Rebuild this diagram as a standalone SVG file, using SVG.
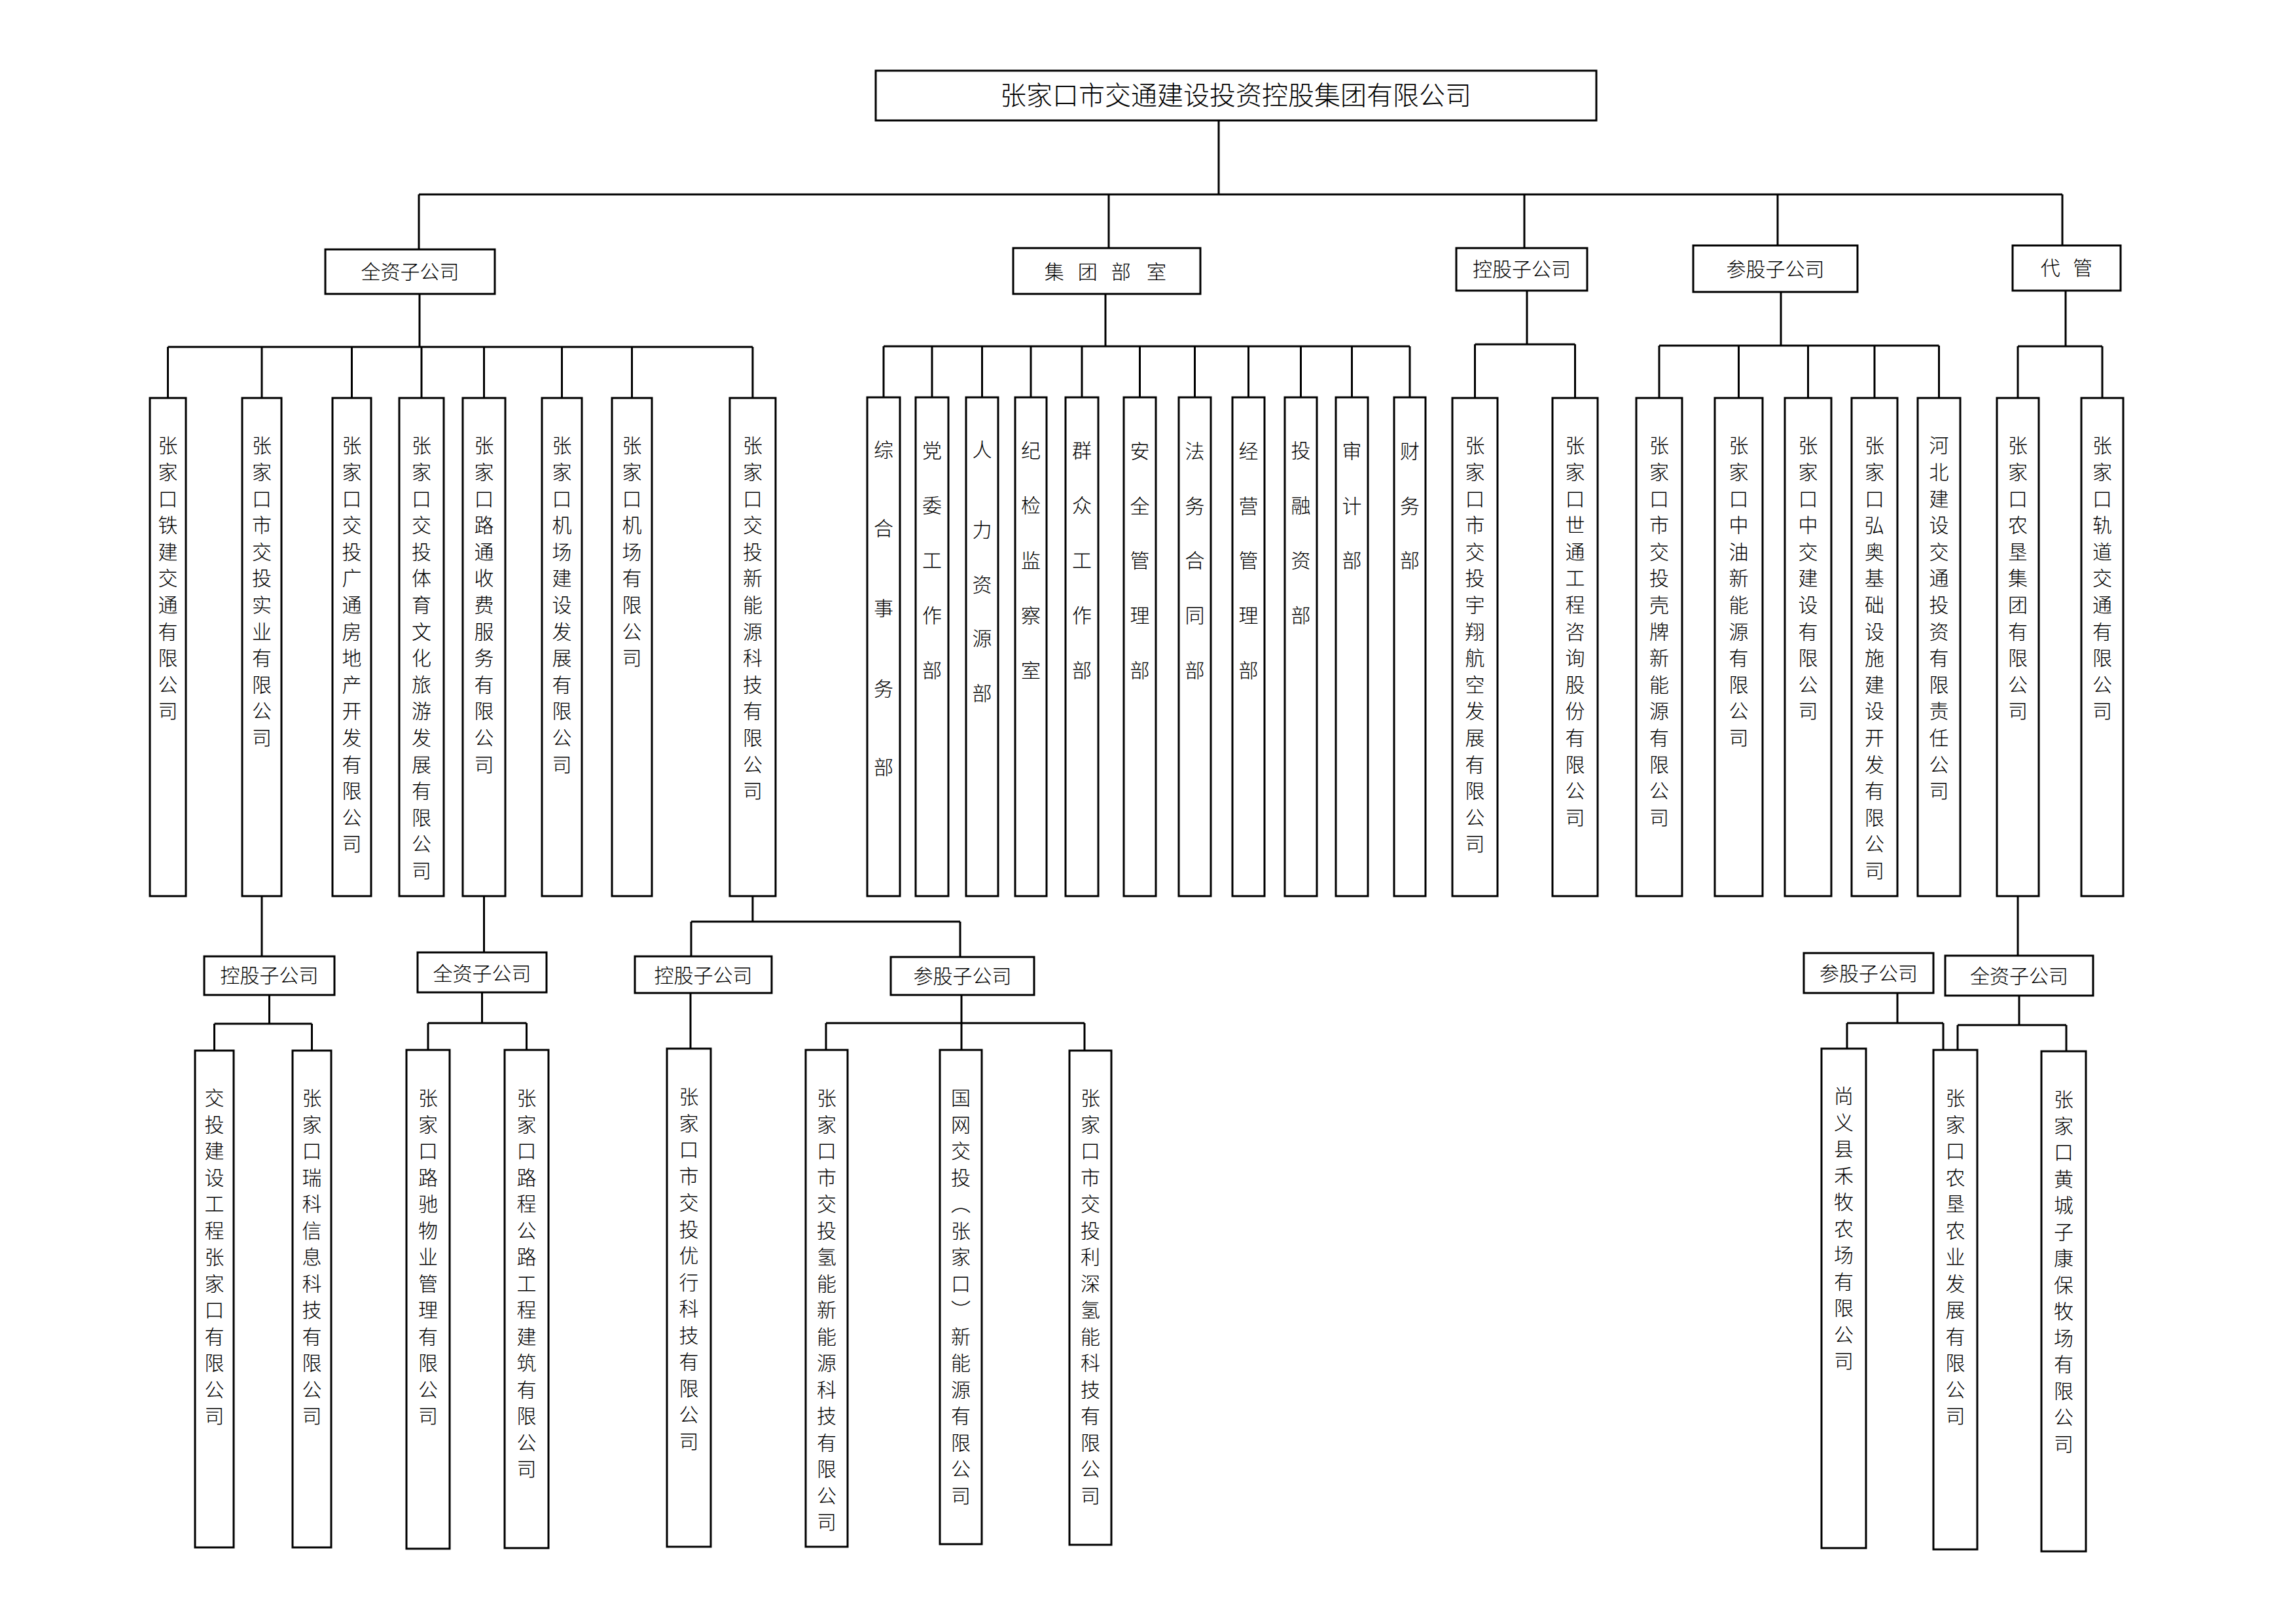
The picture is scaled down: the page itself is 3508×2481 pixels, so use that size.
<svg xmlns="http://www.w3.org/2000/svg" width="3508" height="2481" viewBox="0 0 3508 2481">
<style>
.box{fill:#fff;stroke:#000;stroke-width:3}
.ln{fill:none;stroke:#000;stroke-width:3}
.t{font-family:'Noto Sans CJK SC','Noto Sans CJK JP',sans-serif;font-size:30px;font-weight:300;fill:#000}
.c{text-anchor:middle}
.h{font-size:40px}
</style>
<rect width="3508" height="2481" fill="#fff"/>
<g id="connectors">
<path class="ln" d="M1862 184V297M640 297H3151M640 297V381M1694 297V379M2329 297V379M2716 297V375M3151 297V375"/>
<path class="ln" d="M641 449V530M256.5 530H1150M256.5 530V608M400 530V608M537.5 530V608M644 530V608M739.5 530V608M858.5 530V608M965.5 530V608M1150 530V608"/>
<path class="ln" d="M1689 449V529M1350 529H2154M1350 529V607M1424 529V607M1500.5 529V607M1575 529V607M1653 529V607M1741.5 529V607M1825.5 529V607M1907.5 529V607M1987.5 529V607M2065.5 529V607M2154 529V607"/>
<path class="ln" d="M2333 444V526M2253.5 526H2406.5M2253.5 526V608M2406.5 526V608"/>
<path class="ln" d="M2721 446V528M2535 528H2962.5M2535 528V608M2656.5 528V608M2762.5 528V608M2864 528V608M2962.5 528V608"/>
<path class="ln" d="M3156 444V529M3083 529H3212M3083 529V608M3212 529V608"/>
<path class="ln" d="M400 1369V1461M411.5 1520V1564M327.5 1564H476.5M327.5 1564V1605M476.5 1564V1605"/>
<path class="ln" d="M739.5 1369V1455M736.5 1516V1563M654 1563H804.5M654 1563V1604M804.5 1563V1604"/>
<path class="ln" d="M1150 1369V1408M1056 1408H1467M1056 1408V1461M1467 1408V1462M1055 1517V1602"/>
<path class="ln" d="M1469 1520V1604M1262 1563H1657M1262 1563V1604M1657 1563V1604"/>
<path class="ln" d="M3083 1369V1460M3085 1521V1566M2991 1566H3157M2991 1566V1604M3157 1566V1606"/>
<path class="ln" d="M2899 1517V1563M2822 1563H2969M2822 1563V1602M2969 1563V1604"/>
</g>
<g id="n_root"><rect class="box" x="1338" y="108" width="1101" height="76"/><text class="t c h" x="1888" y="160">张家口市交通建设投资控股集团有限公司</text></g>
<g id="n_qz"><rect class="box" x="497" y="381" width="259" height="68"/><text class="t c" x="626.5" y="426">全资子公司</text></g>
<g id="n_jt"><rect class="box" x="1548" y="379" width="286" height="70"/><text class="t c" y="426"><tspan x="1614">集</tspan> <tspan x="1665">团</tspan> <tspan x="1716">部</tspan> <tspan x="1767">室</tspan></text></g>
<g id="n_kg"><rect class="box" x="2225" y="379" width="200" height="65"/><text class="t c" x="2325" y="422">控股子公司</text></g>
<g id="n_cg"><rect class="box" x="2587" y="375" width="251" height="71"/><text class="t c" x="2712.5" y="422">参股子公司</text></g>
<g id="n_dg"><rect class="box" x="3075" y="375" width="165" height="69"/><text class="t c" y="420"><tspan x="3136">代</tspan> <tspan x="3182">管</tspan></text></g>

<g id="n_a1"><rect class="box" x="229" y="608" width="55" height="761"/><text class="t c" x="256.5 256.5 256.5 256.5 256.5 256.5 256.5 256.5 256.5 256.5 256.5 256.5 256.5 256.5 256.5 256.5 256.5" y="691.4 732 772.6 813.2 853.8 894.4 935 975.6 1016.2 1056.8 1097.4 1138 1178.6 1219.2 1259.8 1300.4 1341">张家口铁建交通有限公司</text></g>
<g id="n_a2"><rect class="box" x="370" y="608" width="60" height="761"/><text class="t c" x="400 400 400 400 400 400 400 400 400 400 400 400 400 400 400 400 400" y="691.4 732 772.6 813.2 853.8 894.4 935 975.6 1016.2 1056.8 1097.4 1138 1178.6 1219.2 1259.8 1300.4 1341">张家口市交投实业有限公司</text></g>
<g id="n_a3"><rect class="box" x="508" y="608" width="59" height="761"/><text class="t c" x="537.5 537.5 537.5 537.5 537.5 537.5 537.5 537.5 537.5 537.5 537.5 537.5 537.5 537.5 537.5 537.5 537.5" y="691.4 732 772.6 813.2 853.8 894.4 935 975.6 1016.2 1056.8 1097.4 1138 1178.6 1219.2 1259.8 1300.4 1341">张家口交投广通房地产开发有限公司</text></g>
<g id="n_a4"><rect class="box" x="610" y="608" width="68" height="761"/><text class="t c" x="644 644 644 644 644 644 644 644 644 644 644 644 644 644 644 644 644" y="691.4 732 772.6 813.2 853.8 894.4 935 975.6 1016.2 1056.8 1097.4 1138 1178.6 1219.2 1259.8 1300.4 1341">张家口交投体育文化旅游发展有限公司</text></g>
<g id="n_a5"><rect class="box" x="707" y="608" width="65" height="761"/><text class="t c" x="739.5 739.5 739.5 739.5 739.5 739.5 739.5 739.5 739.5 739.5 739.5 739.5 739.5 739.5 739.5 739.5 739.5" y="691.4 732 772.6 813.2 853.8 894.4 935 975.6 1016.2 1056.8 1097.4 1138 1178.6 1219.2 1259.8 1300.4 1341">张家口路通收费服务有限公司</text></g>
<g id="n_a6"><rect class="box" x="828" y="608" width="61" height="761"/><text class="t c" x="858.5 858.5 858.5 858.5 858.5 858.5 858.5 858.5 858.5 858.5 858.5 858.5 858.5 858.5 858.5 858.5 858.5" y="691.4 732 772.6 813.2 853.8 894.4 935 975.6 1016.2 1056.8 1097.4 1138 1178.6 1219.2 1259.8 1300.4 1341">张家口机场建设发展有限公司</text></g>
<g id="n_a7"><rect class="box" x="935" y="608" width="61" height="761"/><text class="t c" x="965.5 965.5 965.5 965.5 965.5 965.5 965.5 965.5 965.5 965.5 965.5 965.5 965.5 965.5 965.5 965.5 965.5" y="691.4 732 772.6 813.2 853.8 894.4 935 975.6 1016.2 1056.8 1097.4 1138 1178.6 1219.2 1259.8 1300.4 1341">张家口机场有限公司</text></g>
<g id="n_a8"><rect class="box" x="1115" y="608" width="70" height="761"/><text class="t c" x="1150 1150 1150 1150 1150 1150 1150 1150 1150 1150 1150 1150 1150 1150 1150 1150 1150" y="691.4 732 772.6 813.2 853.8 894.4 935 975.6 1016.2 1056.8 1097.4 1138 1178.6 1219.2 1259.8 1300.4 1341">张家口交投新能源科技有限公司</text></g>

<g id="n_d1"><rect class="box" x="1325" y="607" width="50" height="762"/><text class="t c" x="1350 1350 1350 1350 1350" y="698.4 818.4 940.4 1063.4 1183.4">综合事务部</text></g>
<g id="n_d2"><rect class="box" x="1399" y="607" width="50" height="762"/><text class="t c" x="1424 1424 1424 1424 1424" y="699.4 783.4 867.4 951.4 1035.4">党委工作部</text></g>
<g id="n_d3"><rect class="box" x="1476" y="607" width="49" height="762"/><text class="t c" x="1500.5 1500.5 1500.5 1500.5 1500.5" y="698.4 820.4 904.4 986.4 1070.4">人力资源部</text></g>
<g id="n_d4"><rect class="box" x="1551" y="607" width="48" height="762"/><text class="t c" x="1575 1575 1575 1575 1575" y="699.4 783.4 867.4 951.4 1035.4">纪检监察室</text></g>
<g id="n_d5"><rect class="box" x="1628" y="607" width="50" height="762"/><text class="t c" x="1653 1653 1653 1653 1653" y="699.4 783.4 867.4 951.4 1035.4">群众工作部</text></g>
<g id="n_d6"><rect class="box" x="1717" y="607" width="49" height="762"/><text class="t c" x="1741.5 1741.5 1741.5 1741.5 1741.5" y="700.4 784.4 867.4 951.4 1035.4">安全管理部</text></g>
<g id="n_d7"><rect class="box" x="1801" y="607" width="49" height="762"/><text class="t c" x="1825.5 1825.5 1825.5 1825.5 1825.5" y="700.4 784.4 867.4 951.4 1035.4">法务合同部</text></g>
<g id="n_d8"><rect class="box" x="1883" y="607" width="49" height="762"/><text class="t c" x="1907.5 1907.5 1907.5 1907.5 1907.5" y="700.4 784.4 867.4 951.4 1035.4">经营管理部</text></g>
<g id="n_d9"><rect class="box" x="1963" y="607" width="49" height="762"/><text class="t c" x="1987.5 1987.5 1987.5 1987.5" y="699.4 783.4 867.4 951.4">投融资部</text></g>
<g id="n_d10"><rect class="box" x="2041" y="607" width="49" height="762"/><text class="t c" x="2065.5 2065.5 2065.5" y="700.4 784.4 867.4">审计部</text></g>
<g id="n_d11"><rect class="box" x="2130" y="607" width="48" height="762"/><text class="t c" x="2154 2154 2154" y="700.4 784.4 867.4">财务部</text></g>

<g id="n_k1"><rect class="box" x="2219" y="608" width="69" height="761"/><text class="t c" x="2253.5 2253.5 2253.5 2253.5 2253.5 2253.5 2253.5 2253.5 2253.5 2253.5 2253.5 2253.5 2253.5 2253.5 2253.5 2253.5 2253.5" y="691.4 732 772.6 813.2 853.8 894.4 935 975.6 1016.2 1056.8 1097.4 1138 1178.6 1219.2 1259.8 1300.4 1341">张家口市交投宇翔航空发展有限公司</text></g>
<g id="n_k2"><rect class="box" x="2372" y="608" width="69" height="761"/><text class="t c" x="2406.5 2406.5 2406.5 2406.5 2406.5 2406.5 2406.5 2406.5 2406.5 2406.5 2406.5 2406.5 2406.5 2406.5 2406.5 2406.5 2406.5" y="691.4 732 772.6 813.2 853.8 894.4 935 975.6 1016.2 1056.8 1097.4 1138 1178.6 1219.2 1259.8 1300.4 1341">张家口世通工程咨询股份有限公司</text></g>

<g id="n_c1"><rect class="box" x="2500" y="608" width="70" height="761"/><text class="t c" x="2535 2535 2535 2535 2535 2535 2535 2535 2535 2535 2535 2535 2535 2535 2535 2535 2535" y="691.4 732 772.6 813.2 853.8 894.4 935 975.6 1016.2 1056.8 1097.4 1138 1178.6 1219.2 1259.8 1300.4 1341">张家口市交投壳牌新能源有限公司</text></g>
<g id="n_c2"><rect class="box" x="2620" y="608" width="73" height="761"/><text class="t c" x="2656.5 2656.5 2656.5 2656.5 2656.5 2656.5 2656.5 2656.5 2656.5 2656.5 2656.5 2656.5 2656.5 2656.5 2656.5 2656.5 2656.5" y="691.4 732 772.6 813.2 853.8 894.4 935 975.6 1016.2 1056.8 1097.4 1138 1178.6 1219.2 1259.8 1300.4 1341">张家口中油新能源有限公司</text></g>
<g id="n_c3"><rect class="box" x="2727" y="608" width="71" height="761"/><text class="t c" x="2762.5 2762.5 2762.5 2762.5 2762.5 2762.5 2762.5 2762.5 2762.5 2762.5 2762.5 2762.5 2762.5 2762.5 2762.5 2762.5 2762.5" y="691.4 732 772.6 813.2 853.8 894.4 935 975.6 1016.2 1056.8 1097.4 1138 1178.6 1219.2 1259.8 1300.4 1341">张家口中交建设有限公司</text></g>
<g id="n_c4"><rect class="box" x="2829" y="608" width="70" height="761"/><text class="t c" x="2864 2864 2864 2864 2864 2864 2864 2864 2864 2864 2864 2864 2864 2864 2864 2864 2864" y="691.4 732 772.6 813.2 853.8 894.4 935 975.6 1016.2 1056.8 1097.4 1138 1178.6 1219.2 1259.8 1300.4 1341">张家口弘奥基础设施建设开发有限公司</text></g>
<g id="n_c5"><rect class="box" x="2930" y="608" width="65" height="761"/><text class="t c" x="2962.5 2962.5 2962.5 2962.5 2962.5 2962.5 2962.5 2962.5 2962.5 2962.5 2962.5 2962.5 2962.5 2962.5 2962.5 2962.5 2962.5" y="691.4 732 772.6 813.2 853.8 894.4 935 975.6 1016.2 1056.8 1097.4 1138 1178.6 1219.2 1259.8 1300.4 1341">河北建设交通投资有限责任公司</text></g>

<g id="n_g1"><rect class="box" x="3051" y="608" width="64" height="761"/><text class="t c" x="3083 3083 3083 3083 3083 3083 3083 3083 3083 3083 3083 3083 3083 3083 3083 3083 3083" y="691.4 732 772.6 813.2 853.8 894.4 935 975.6 1016.2 1056.8 1097.4 1138 1178.6 1219.2 1259.8 1300.4 1341">张家口农垦集团有限公司</text></g>
<g id="n_g2"><rect class="box" x="3180" y="608" width="64" height="761"/><text class="t c" x="3212 3212 3212 3212 3212 3212 3212 3212 3212 3212 3212 3212 3212 3212 3212 3212 3212" y="691.4 732 772.6 813.2 853.8 894.4 935 975.6 1016.2 1056.8 1097.4 1138 1178.6 1219.2 1259.8 1300.4 1341">张家口轨道交通有限公司</text></g>

<g id="n_h1"><rect class="box" x="312" y="1461" width="199" height="59"/><text class="t c" x="411.5" y="1501">控股子公司</text></g>
<g id="n_h2"><rect class="box" x="638" y="1455" width="197" height="61"/><text class="t c" x="736.5" y="1498">全资子公司</text></g>
<g id="n_h3"><rect class="box" x="970" y="1461" width="209" height="56"/><text class="t c" x="1074.5" y="1501">控股子公司</text></g>
<g id="n_h4"><rect class="box" x="1361" y="1462" width="219" height="58"/><text class="t c" x="1470.5" y="1502">参股子公司</text></g>
<g id="n_h5"><rect class="box" x="2756" y="1456" width="198" height="61"/><text class="t c" x="2855" y="1498">参股子公司</text></g>
<g id="n_h6"><rect class="box" x="2972" y="1460" width="226" height="61"/><text class="t c" x="3085" y="1502">全资子公司</text></g>

<g id="n_b1"><rect class="box" x="298" y="1605" width="59" height="759"/><text class="t c" x="327.5 327.5 327.5 327.5 327.5 327.5 327.5 327.5 327.5 327.5 327.5 327.5 327.5 327.5 327.5 327.5 327.5" y="1688.4 1728.9 1769.4 1809.9 1850.4 1890.9 1931.4 1971.9 2012.4 2052.9 2093.4 2133.9 2174.4 2214.9 2255.4 2295.9 2336.4">交投建设工程张家口有限公司</text></g>
<g id="n_b2"><rect class="box" x="447" y="1605" width="59" height="759"/><text class="t c" x="476.5 476.5 476.5 476.5 476.5 476.5 476.5 476.5 476.5 476.5 476.5 476.5 476.5 476.5 476.5 476.5 476.5" y="1688.4 1728.9 1769.4 1809.9 1850.4 1890.9 1931.4 1971.9 2012.4 2052.9 2093.4 2133.9 2174.4 2214.9 2255.4 2295.9 2336.4">张家口瑞科信息科技有限公司</text></g>
<g id="n_b3"><rect class="box" x="621" y="1604" width="66" height="762"/><text class="t c" x="654 654 654 654 654 654 654 654 654 654 654 654 654 654 654 654 654" y="1688.4 1728.9 1769.4 1809.9 1850.4 1890.9 1931.4 1971.9 2012.4 2052.9 2093.4 2133.9 2174.4 2214.9 2255.4 2295.9 2336.4">张家口路驰物业管理有限公司</text></g>
<g id="n_b4"><rect class="box" x="771" y="1604" width="67" height="761"/><text class="t c" x="804.5 804.5 804.5 804.5 804.5 804.5 804.5 804.5 804.5 804.5 804.5 804.5 804.5 804.5 804.5 804.5 804.5" y="1688.4 1728.9 1769.4 1809.9 1850.4 1890.9 1931.4 1971.9 2012.4 2052.9 2093.4 2133.9 2174.4 2214.9 2255.4 2295.9 2336.4">张家口路程公路工程建筑有限公司</text></g>
<g id="n_b5"><rect class="box" x="1019" y="1602" width="67" height="761"/><text class="t c" x="1052.5 1052.5 1052.5 1052.5 1052.5 1052.5 1052.5 1052.5 1052.5 1052.5 1052.5 1052.5 1052.5 1052.5 1052.5 1052.5 1052.5" y="1686.4 1726.9 1767.4 1807.9 1848.4 1888.9 1929.4 1969.9 2010.4 2050.9 2091.4 2131.9 2172.4 2212.9 2253.4 2293.9 2334.4">张家口市交投优行科技有限公司</text></g>
<g id="n_b6"><rect class="box" x="1231" y="1604" width="64" height="759"/><text class="t c" x="1263 1263 1263 1263 1263 1263 1263 1263 1263 1263 1263 1263 1263 1263 1263 1263 1263" y="1688.4 1728.9 1769.4 1809.9 1850.4 1890.9 1931.4 1971.9 2012.4 2052.9 2093.4 2133.9 2174.4 2214.9 2255.4 2295.9 2336.4">张家口市交投氢能新能源科技有限公司</text></g>
<g id="n_b7"><rect class="box" x="1436" y="1604" width="64" height="755"/><text class="t" x="1468" y="1662" style="writing-mode:vertical-rl;letter-spacing:10.5px">国网交投（张家口）新能源有限公司</text></g>
<g id="n_b8"><rect class="box" x="1634" y="1605" width="64" height="755"/><text class="t c" x="1666 1666 1666 1666 1666 1666 1666 1666 1666 1666 1666 1666 1666 1666 1666 1666 1666" y="1688.4 1728.9 1769.4 1809.9 1850.4 1890.9 1931.4 1971.9 2012.4 2052.9 2093.4 2133.9 2174.4 2214.9 2255.4 2295.9 2336.4">张家口市交投利深氢能科技有限公司</text></g>
<g id="n_b9"><rect class="box" x="2783" y="1602" width="68" height="763"/><text class="t c" x="2817 2817 2817 2817 2817 2817 2817 2817 2817 2817 2817 2817 2817 2817 2817 2817 2817" y="1685.4 1725.9 1766.4 1806.9 1847.4 1887.9 1928.4 1968.9 2009.4 2049.9 2090.4 2130.9 2171.4 2211.9 2252.4 2292.9 2333.4">尚义县禾牧农场有限公司</text></g>
<g id="n_b10"><rect class="box" x="2954" y="1604" width="67" height="763"/><text class="t c" x="2987.5 2987.5 2987.5 2987.5 2987.5 2987.5 2987.5 2987.5 2987.5 2987.5 2987.5 2987.5 2987.5 2987.5 2987.5 2987.5 2987.5" y="1688.4 1728.9 1769.4 1809.9 1850.4 1890.9 1931.4 1971.9 2012.4 2052.9 2093.4 2133.9 2174.4 2214.9 2255.4 2295.9 2336.4">张家口农垦农业发展有限公司</text></g>
<g id="n_b11"><rect class="box" x="3119" y="1606" width="68" height="764"/><text class="t c" x="3153 3153 3153 3153 3153 3153 3153 3153 3153 3153 3153 3153 3153 3153 3153 3153 3153" y="1690.4 1730.9 1771.4 1811.9 1852.4 1892.9 1933.4 1973.9 2014.4 2054.9 2095.4 2135.9 2176.4 2216.9 2257.4 2297.9 2338.4">张家口黄城子康保牧场有限公司</text></g>
</svg>
